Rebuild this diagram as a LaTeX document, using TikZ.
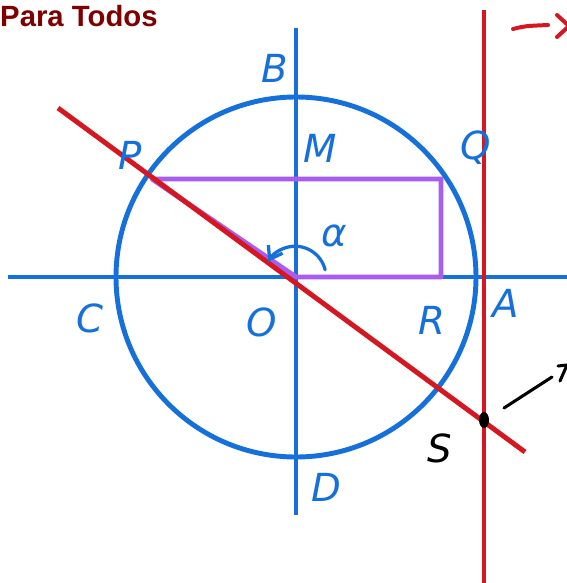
\documentclass[tikz,border=0pt]{standalone}
\usepackage{fontspec}
\newfontfamily\titlefont{Liberation Sans}
\newfontfamily\handfont{DejaVu Sans}
\usetikzlibrary{arrows.meta}
\definecolor{penblue}{RGB}{22,112,220}
\definecolor{penred}{RGB}{214,22,32}
\definecolor{penpurple}{RGB}{168,92,240}
\definecolor{titlered}{RGB}{128,0,0}
\begin{document}
\begin{tikzpicture}[x=0.03cm, y=-0.03cm,
    axis/.style={draw=penblue, line width=4.2pt},
    redline/.style={draw=penred, line width=4.2pt},
    box/.style={draw=penpurple, line width=4.2pt, line join=round},
    lbl/.style={font=\fontsize{33}{33}\selectfont\handfont\itshape, text=penblue, inner sep=0pt},
    ink/.style={draw=black, line width=2.6pt, line cap=round, line join=round},
    redink/.style={draw=penred, line width=3.4pt, line cap=round, line join=round}
]
\clip (0,0) rectangle (567,583);
\fill[white] (0,0) rectangle (567,583);

% Title
\node[font=\titlefont\fontsize{25}{25}\selectfont\bfseries, text=titlered, anchor=base west, inner sep=0pt] (title) at (0,26) {Para Todos};

% Points
\coordinate (O) at (296,277);
\coordinate (P) at (152,179);
\coordinate (Pr) at (441,179);
\coordinate (R) at (441,277);
\coordinate (S) at (484,420);

% Circle and axes
\draw[axis] (O) circle[radius=180];
\draw[axis] (8,277) -- (567,277);
\draw[axis] (296,28) -- (296,515);

% Rectangle
\draw[box] (P) -- (Pr) -- (R) -- (O) -- cycle;

% Tangent line and secant
\draw[redline] (484,10) -- (484,583);
\draw[redline] (58,108) -- (525,452);

% Angle
\draw[draw=penblue, line width=2.8pt, line cap=round, -{Straight Barb[length=10pt,width=14pt]}]
    ([shift={(-14:30)}]O) arc[start angle=-14, end angle=-150, radius=31];
\node[lbl] (alpha) at (334,236) {α};

% Labels
\node[lbl] (lB) at (275,68) {B};
\node[lbl] (lM) at (320,148) {M};
\node[lbl] (lP) at (130,155) {P};
\node[lbl] (lQ) at (476,148) {Q};
\node[lbl] (lC) at (90,318) {C};
\node[lbl] (lO) at (262,322) {O};
\node[lbl] (lR) at (432,320) {R};
\node[lbl] (lA) at (506,303) {A};
\node[lbl] (lD) at (326,487) {D};
\node[lbl, text=black] (lS) at (440,448) {S};

% Point S and hand-drawn arrows
\fill (S) ellipse[x radius=5, y radius=8];
\draw[ink] (504,408) -- (552,377);
\draw[ink] (558,366) -- (567,365) -- (560,381);
\draw[redink] (513,29) .. controls (525,26) .. (548,25);
\draw[redink] (557,15) -- (569,26) -- (557,37);
\end{tikzpicture}
\end{document}
